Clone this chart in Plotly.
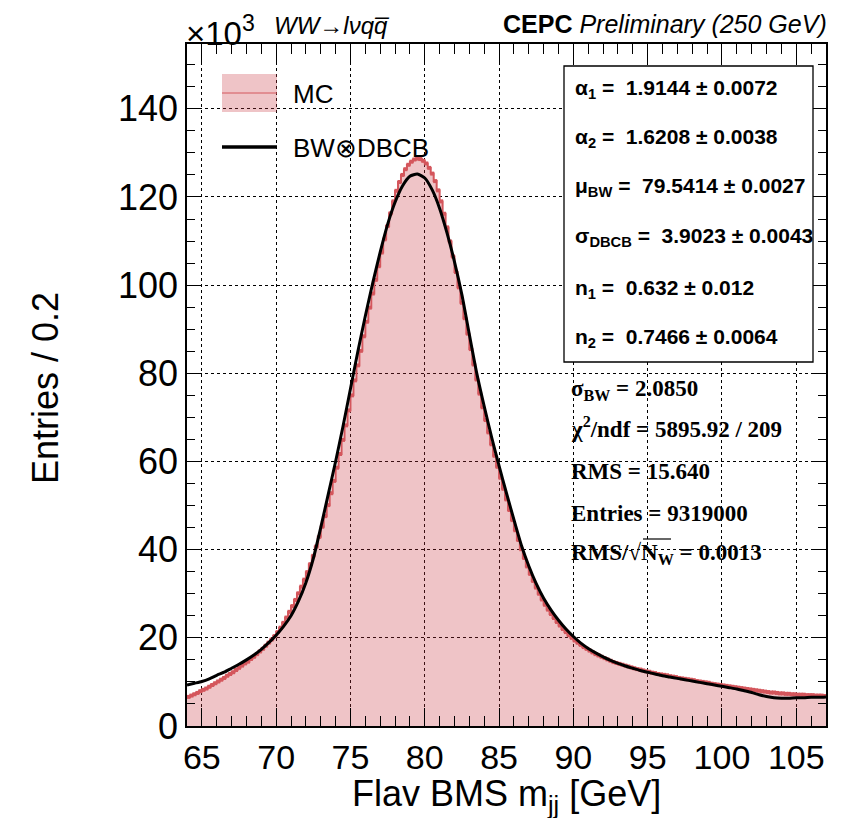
import plotly.graph_objects as go

# ---------------- data ----------------
bin_centers = [round(64.1 + 0.2 * i, 1) for i in range(215)]
mc_counts_k = [
    6.6, 6.9, 7.2, 7.5, 7.9,
    8.2, 8.5, 8.9, 9.3, 9.7,
    10.1, 10.5, 10.9, 11.4, 11.8,
    12.2, 12.7, 13.2, 13.7, 14.2,
    14.6, 15.2, 15.7, 16.3, 16.9,
    17.5, 18.2, 18.9, 19.6, 20.4,
    21.3, 22.3, 23.4, 24.6, 25.9,
    27.2, 28.6, 30.1, 31.6, 33.2,
    34.9, 36.7, 38.6, 40.7, 42.9,
    45.2, 47.6, 50.1, 52.8, 55.6,
    58.6, 61.7, 64.9, 68.2, 71.6,
    75.0, 78.4, 81.8, 85.1, 88.4,
    91.7, 94.9, 98.1, 101.2, 104.3,
    107.4, 110.4, 113.4, 116.3, 119.0,
    121.4, 123.4, 125.0, 126.3, 127.3,
    128.0, 128.5, 128.7, 128.6, 128.2,
    127.6, 126.6, 125.3, 123.6, 121.5,
    119.0, 116.2, 113.1, 109.9, 106.5,
    103.0, 99.5, 96.0, 92.5, 89.0,
    85.5, 82.0, 78.6, 75.4, 72.3,
    69.4, 66.6, 63.9, 61.3, 58.8,
    56.3, 53.8, 51.4, 49.0, 46.7,
    44.4, 42.2, 40.1, 38.1, 36.2,
    34.5, 32.9, 31.4, 30.0, 28.7,
    27.5, 26.4, 25.4, 24.5, 23.6,
    22.8, 22.0, 21.3, 20.6, 20.0,
    19.4, 18.9, 18.4, 17.9, 17.5,
    17.1, 16.7, 16.3, 16.0, 15.7,
    15.4, 15.1, 14.8, 14.5, 14.3,
    14.1, 13.9, 13.7, 13.5, 13.3,
    13.1, 12.9, 12.8, 12.6, 12.4,
    12.3, 12.1, 12.0, 11.8, 11.7,
    11.6, 11.5, 11.3, 11.2, 11.1,
    10.9, 10.8, 10.7, 10.6, 10.5,
    10.4, 10.2, 10.1, 10.0, 9.9,
    9.8, 9.6, 9.5, 9.4, 9.3,
    9.2, 9.1, 9.0, 8.9, 8.8,
    8.7, 8.6, 8.5, 8.4, 8.3,
    8.2, 8.1, 8.0, 7.9, 7.8,
    7.7, 7.6, 7.6, 7.5, 7.4,
    7.4, 7.3, 7.3, 7.2, 7.2,
    7.1, 7.1, 7.1, 7.0, 7.0,
    7.0, 6.9, 6.9, 6.9, 6.8,
]

fit_x = [64.0 + 0.5 * i for i in range(87)]
fit_k = [
    9.3, 9.7, 10.1, 10.7, 11.5, 12.2, 13.1, 14.0, 15.0, 16.1,
    17.4, 18.9, 20.6, 22.6, 25.0, 28.3, 32.5, 38.0, 45.0, 52.5,
    60.0, 68.0, 76.5, 85.0, 93.0, 100.5, 107.5, 113.8, 118.8, 122.5,
    124.7, 125.2, 124.3, 121.6, 117.4, 111.8, 105.3, 97.8, 88.8, 80.0,
    72.5, 65.5, 59.0, 52.8, 46.8, 41.0, 36.3, 32.3, 29.0, 26.3,
    24.0, 22.0, 20.3, 18.8, 17.6, 16.6, 15.7, 14.9, 14.2, 13.6,
    13.1, 12.6, 12.2, 11.8, 11.4, 11.1, 10.8, 10.5, 10.2, 9.9,
    9.6, 9.3, 9.0, 8.7, 8.4, 8.0, 7.6, 7.1, 6.7, 6.4,
    6.3, 6.3, 6.4, 6.4, 6.5, 6.5, 6.6,
]

x_ticks = [65, 70, 75, 80, 85, 90, 95, 100, 105]
y_ticks = [0, 20, 40, 60, 80, 100, 120, 140]

fit_params = [
    "α<sub>1</sub> =  1.9144 ± 0.0072",
    "α<sub>2</sub> =  1.6208 ± 0.0038",
    "μ<sub>BW</sub> =  79.5414 ± 0.0027",
    "σ<sub>DBCB</sub> =  3.9023 ± 0.0043",
    "n<sub>1</sub> =  0.632 ± 0.012",
    "n<sub>2</sub> =  0.7466 ± 0.0064",
]
extra_stats = [
    "σ<sub>BW</sub> = 2.0850",
    "χ<sup>2</sup>/ndf = 5895.92 / 209",
    "RMS = 15.640",
    "Entries = 9319000",
    "RMS/√N<sub>W</sub> = 0.0013",
]

# ---------------- layout geometry (reference pixel frame) ----------------
OFF = 8  # page body margin
W, H = 854, 818
L, R, T, B = 187, 826, 44, 726
Y_TOP = 154.7


def px(x):
    return (x - L) / (R - L)


def py(y):
    return (B - y) / (B - T)


FILL = "rgba(200,52,62,0.29)"
RED = "#d4565c"
SANS = "Liberation Sans, Arial, Helvetica, sans-serif"
SERIF = "Liberation Serif, Times New Roman, serif"

fig = go.Figure()
fig.add_trace(go.Bar(x=bin_centers, y=mc_counts_k, width=0.2,
                     marker=dict(color=FILL, line=dict(width=0)),
                     showlegend=False, hoverinfo="skip"))
fig.add_trace(go.Scatter(x=bin_centers, y=mc_counts_k, mode="lines+markers",
                         line=dict(color=RED, width=2, shape="hvh"),
                         marker=dict(symbol="square", size=4, color=RED),
                         showlegend=False))
fig.add_trace(go.Scatter(x=fit_x, y=fit_k, mode="lines",
                         line=dict(color="black", width=3, shape="spline", smoothing=0.6),
                         showlegend=False))

axis_common = dict(showline=True, linecolor="black", linewidth=1.5, mirror="ticks",
                   ticks="inside", tickcolor="black", zeroline=False,
                   showgrid=True, gridcolor="black", griddash="dot", gridwidth=1)

fig.update_xaxes(range=[64, 107], tickvals=x_ticks, ticklen=18, tickwidth=1.3,
                 tickfont=dict(family=SANS, size=34, color="black"),
                 minor=dict(dtick=1, tick0=64, ticklen=10, ticks="inside", tickcolor="black", showgrid=False),
                 **axis_common)
fig.update_yaxes(range=[0, Y_TOP], tickvals=y_ticks, ticklen=15, tickwidth=1.3,
                 tickfont=dict(family=SANS, size=36, color="black"),
                 minor=dict(dtick=5, tick0=0, ticklen=8, ticks="inside", tickcolor="black", showgrid=False),
                 **axis_common)

shapes = []
annotations = []

# legend
shapes.append(dict(type="rect", xref="paper", yref="paper", x0=px(222), x1=px(277), y0=py(112), y1=py(74),
                   fillcolor=FILL, line=dict(width=0)))
shapes.append(dict(type="line", xref="paper", yref="paper", x0=px(222), x1=px(277), y0=py(93), y1=py(93),
                   line=dict(color=RED, width=1)))
shapes.append(dict(type="line", xref="paper", yref="paper", x0=px(222), x1=px(277), y0=py(147), y1=py(147),
                   line=dict(color="black", width=3.5)))
annotations.append(dict(text="MC", x=px(291), y=py(94), xref="paper", yref="paper", showarrow=False,
                        xanchor="left", yanchor="middle", font=dict(family=SANS, size=26, color="black")))
annotations.append(dict(text="BW⊗DBCB", x=px(291), y=py(148), xref="paper", yref="paper", showarrow=False,
                        xanchor="left", yanchor="middle", font=dict(family=SANS, size=26, color="black")))

# stats box
shapes.append(dict(type="rect", xref="paper", yref="paper", x0=px(564), x1=px(813), y0=py(362), y1=py(66),
                   fillcolor="white", line=dict(color="black", width=1.3), layer="above"))
ys_box = [89, 138, 187, 237, 289, 338]
for t, yy in zip(fit_params, ys_box):
    annotations.append(dict(text="<b>" + t + "</b>", x=px(573), y=py(yy), xref="paper", yref="paper",
                            showarrow=False, xanchor="left", yanchor="middle",
                            font=dict(family=SANS, size=21, color="black")))

ys_extra = [390, 428, 471, 513, 554]
for t, yy in zip(extra_stats, ys_extra):
    annotations.append(dict(text="<b>" + t + "</b>", x=px(569), y=py(yy), xref="paper", yref="paper",
                            showarrow=False, xanchor="left", yanchor="middle",
                            font=dict(family=SERIF, size=23, color="black")))
# overline of the square root in the last line
shapes.append(dict(type="line", xref="paper", yref="paper", x0=px(643), x1=px(671), y0=py(539), y1=py(539),
                   line=dict(color="black", width=1.2)))

# header texts
annotations.append(dict(text="×10<sup>3</sup>", x=px(184), y=py(8), xref="paper", yref="paper",
                        showarrow=False, xanchor="left", yanchor="top",
                        font=dict(family=SANS, size=33, color="black")))
annotations.append(dict(text="<i>WW→lνqq̅</i>", x=px(272), y=py(25), xref="paper", yref="paper",
                        showarrow=False, xanchor="left", yanchor="middle",
                        font=dict(family=SANS, size=24, color="black")))
annotations.append(dict(text="<b>CEPC</b> <i>Preliminary (250 GeV)</i>", x=px(829), y=py(24),
                        xref="paper", yref="paper", showarrow=False, xanchor="right", yanchor="middle",
                        font=dict(family=SANS, size=25, color="black")))

# axis titles
annotations.append(dict(text="Flav BMS m<sub>jj</sub> [GeV]", x=px(506), y=py(796), xref="paper", yref="paper",
                        showarrow=False, xanchor="center", yanchor="middle",
                        font=dict(family=SANS, size=36, color="black")))
annotations.append(dict(text="Entries / 0.2", x=px(45), y=py(388), xref="paper", yref="paper",
                        showarrow=False, xanchor="center", yanchor="middle", textangle=-90,
                        font=dict(family=SANS, size=36, color="black")))

fig.update_layout(width=W - OFF, height=H - OFF,
                  margin=dict(l=L - OFF, r=W - R, t=T - OFF, b=H - B, autoexpand=False),
                  paper_bgcolor="white", plot_bgcolor="white", bargap=0,
                  shapes=shapes, annotations=annotations, showlegend=False)

fig.write_html("out.html")
